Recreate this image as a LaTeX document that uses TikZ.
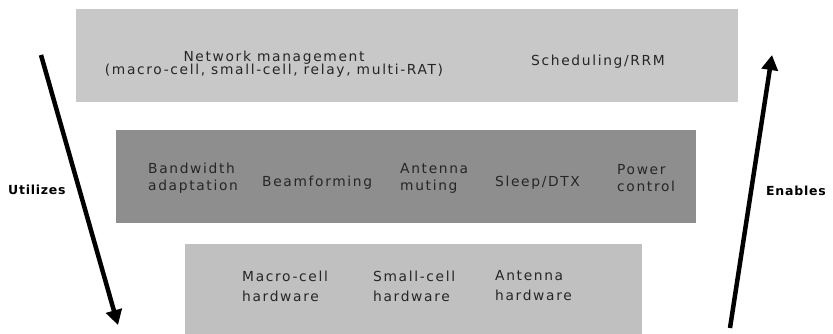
\documentclass[tikz,border=0pt]{standalone}
\usepackage{fontspec}
\setmainfont{DejaVu Sans}[LetterSpace=12]
\newfontfamily\sidefont{DejaVu Sans}[LetterSpace=6]
\usetikzlibrary{arrows.meta}
\definecolor{lightbox}{RGB}{200,200,200}
\definecolor{darkbox}{RGB}{142,142,142}
\definecolor{lowbox}{RGB}{192,192,192}
\begin{document}
\begin{tikzpicture}[x=1pt,y=-1pt,
  lbl/.style={font=\fontsize{13.8}{17}\selectfont, align=left, anchor=west, text=black!85, inner sep=0pt},
  hwlbl/.style={lbl, font=\fontsize{13.8}{20}\selectfont},
  toplbl/.style={font=\fontsize{13.8}{13.5}\selectfont, align=center, text=black!85, inner sep=0pt},
  side/.style={font=\sidefont\fontsize{12.5}{14}\selectfont\bfseries, inner sep=0pt, anchor=west},
  bigarrow/.style={line width=4.5pt, -{Triangle[width=16pt,length=15pt]}}]
\useasboundingbox (0,0) rectangle (833,334);
% layers
\fill[lightbox] (76,9) rectangle (738,102);
\fill[darkbox] (116,130) rectangle (696,223);
\fill[lowbox] (185,244) rectangle (642,340);
% top texts
\node[toplbl] (nm) at (274,64) {Network management\\(macro-cell, small-cell, relay, multi-RAT)};
\node[toplbl] (sch) at (598,62) {Scheduling/RRM};
% middle texts
\node[lbl] (bw) at (148,178) {Bandwidth\\adaptation};
\node[lbl] (bf) at (262,183) {Beamforming};
\node[lbl] (am) at (400,178) {Antenna\\muting};
\node[lbl] (sl) at (495,183) {Sleep/DTX};
\node[lbl] (pc) at (617,178) {Power\\control};
% bottom texts
\node[hwlbl] (mh) at (242,286) {Macro-cell\\hardware};
\node[hwlbl] (sh) at (373,286) {Small-cell\\hardware};
\node[hwlbl] (ah) at (495,286) {Antenna\\hardware};
% arrows
\coordinate (ls) at (41,55);
\coordinate (le) at (118,325);
\coordinate (rs) at (730,328);
\coordinate (re) at (772,55);
\draw[bigarrow] (ls) -- (le);
\draw[bigarrow] (rs) -- (re);
\node[side] (ut) at (8,190) {Utilizes};
\node[side] (en) at (766,191) {Enables};
\end{tikzpicture}
\end{document}
